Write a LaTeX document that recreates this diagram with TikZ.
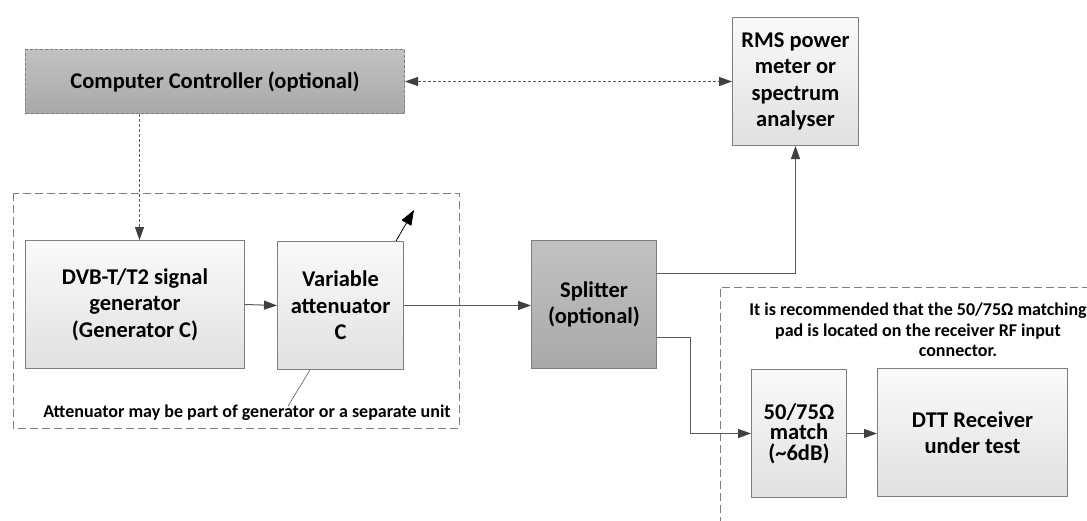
\documentclass[tikz,border=0pt]{standalone}
\usepackage{fontspec}
\setmainfont{Carlito}
\usetikzlibrary{arrows.meta,calc}
\definecolor{edgegray}{HTML}{7F7F7F}
\definecolor{conngray}{HTML}{5A5A5A}
\definecolor{headgray}{HTML}{404040}
\newcommand{\boxfont}{\bfseries\fontsize{22.5}{26.5}\selectfont}
\newcommand{\matchfont}{\bfseries\fontsize{22.5}{20.5}\selectfont}
\newcommand{\notefont}{\bfseries\fontsize{18}{20.5}\selectfont}
\tikzset{
  basebox/.style={draw=edgegray, line width=1pt, align=center, font=\boxfont,
    inner sep=0pt, anchor=north west, text=black},
  lightbox/.style={basebox, top color=white!98!black, bottom color=white!88!black},
  darkbox/.style={basebox, top color=black!24, bottom color=black!34},
  conn/.style={draw=conngray, line width=1pt, -{Triangle[length=13pt,width=9pt,color=headgray]}},
  dconn/.style={conn, dash pattern=on 3pt off 2pt},
  groupline/.style={draw=edgegray, line width=1pt, dash pattern=on 8pt off 4pt},
  notetext/.style={font=\notefont, align=center, inner sep=0pt}
}
\begin{document}
\begin{tikzpicture}[x=1pt,y=-1pt]
\useasboundingbox (0,0) rectangle (1087,520);
\fill[white] (0,0) rectangle (1087,520);

% groups
\draw[groupline] (13,193) rectangle (459,428);
\draw[groupline] (720,525) -- (720,287) -- (1092,287);

% boxes
\node[darkbox, dash pattern=on 3pt off 2pt, minimum width=379pt, minimum height=64pt] (cc) at (25,49) {Computer Controller (optional)};
\node[lightbox, minimum width=126pt, minimum height=128pt] (rms) at (732,17) {RMS power\\meter or\\spectrum\\analyser};
\node[lightbox, minimum width=219pt, minimum height=128pt] (dvb) at (25,240) {DVB-T/T2 signal\\generator\\(Generator C)};
\node[lightbox, minimum width=126pt, minimum height=128pt] (va) at (277,241) {Variable\\attenuator\\C};
\node[darkbox, minimum width=125pt, minimum height=128pt] (spl) at (531,240) {Splitter\\(optional)};
\node[lightbox, font=\matchfont, minimum width=95pt, minimum height=128pt] (match) at (751,369) {50/75Ω\\match\\(\textasciitilde6dB)};
\node[lightbox, minimum width=190pt, minimum height=128pt] (dtt) at (877,368) {DTT Receiver\\under test};

% texts
\node[notetext] (attnote) at (247,413) {Attenuator may be part of generator or a separate unit};
\node[notetext] (padnote) at (918,321) {It is recommended that the 50/75Ω matching\\pad is located on the receiver RF input};
\node[notetext] (connote) at (958,351) {connector.};

% connectors
\draw[dconn, {Triangle[length=13pt,width=9pt,color=headgray]}-{Triangle[length=13pt,width=9pt,color=headgray]}] (cc.east) -- (rms.west);
\draw[dconn] ([xshift=4.5pt]cc.south -| dvb.north) -- ([xshift=4.5pt]dvb.north);
\draw[conn] (dvb.east) -- (va.west);
\draw[conn] (va.east) -- (spl.west |- va.east);
\coordinate (vtip) at (414,210);
\draw[line width=0.8pt, -{Triangle[length=15pt,width=11pt]}] ([xshift=-8pt]va.north east) -- (vtip);
\coordinate (leadend) at (288,406);
\draw[line width=0.6pt, conngray] ([xshift=33pt]va.south west) -- (leadend);
\draw[conn] ([yshift=-33pt]spl.north east) -| (rms.south);
\draw[conn] ([yshift=-33pt]spl.east) -- ++(33,0) |- (match.west);
\draw[conn] (match.east) -- (dtt.west |- match.east);
\end{tikzpicture}
\end{document}
